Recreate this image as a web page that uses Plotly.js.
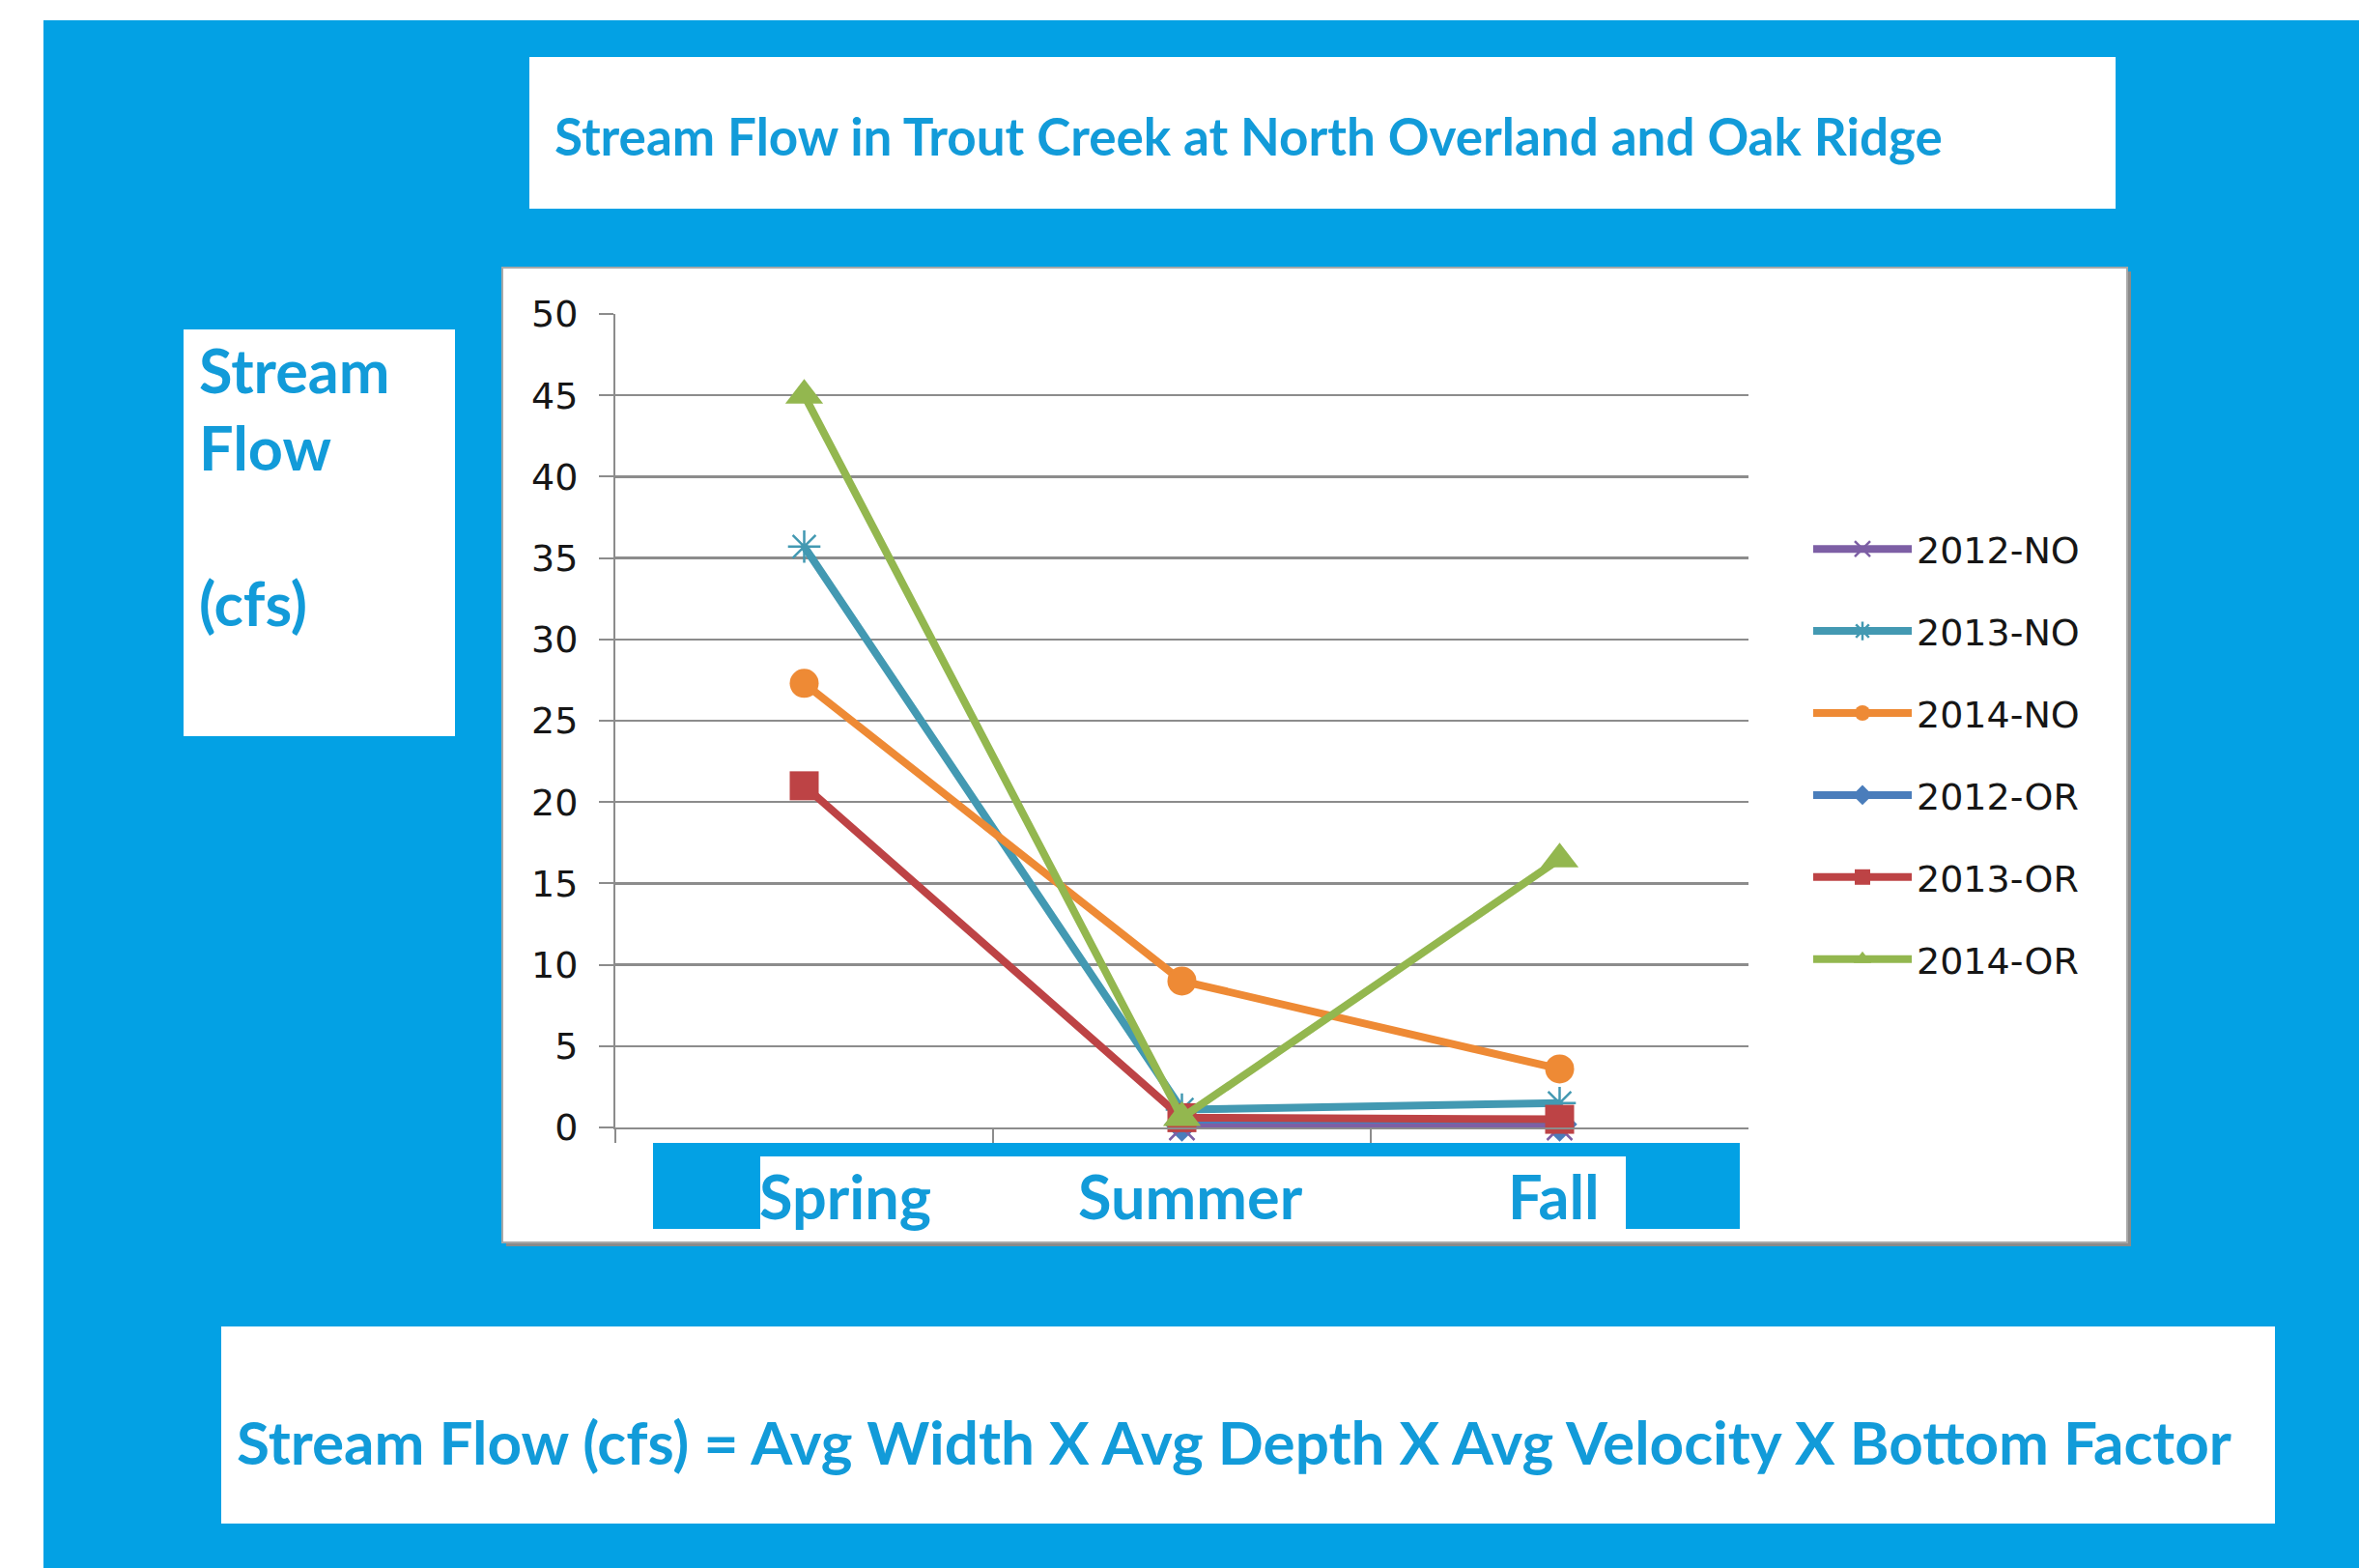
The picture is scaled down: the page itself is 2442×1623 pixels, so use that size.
<!DOCTYPE html>
<html><head><meta charset="utf-8">
<script src="https://cdn.plot.ly/plotly-3.0.1.min.js"></script>
<style>html,body{margin:0;padding:0;background:#fff;}#chart{width:2442px;height:1623px;}</style>
</head><body><div id="chart"></div>
<script>
// ---- data ----
const seasons = ["Spring", "Summer", "Fall"];
const seriesNames = ["2012-NO", "2013-NO", "2014-NO", "2012-OR", "2013-OR", "2014-OR"];
const flow2012NO = [null, 0.0, 0.0];
const flow2013NO = [35.7, 1.1, 1.5];
const flow2014NO = [27.3, 9.0, 3.6];
const flow2012OR = [null, 0.2, 0.2];
const flow2013OR = [21.0, 0.6, 0.5];
const flow2014OR = [45.0, 0.6, 16.5];
const yTickVals = [0, 5, 10, 15, 20, 25, 30, 35, 40, 45, 50];
const chartTitle = "Stream Flow in Trout Creek at North Overland and Oak Ridge";
const yTitleLines = ["Stream", "Flow", "(cfs)"];
const formulaText = "Stream Flow (cfs) = Avg Width X Avg Depth X Avg Velocity X Bottom Factor";

// ---- styling ----
const W = 2442, H = 1623;
const px = x => x / W;
const py = y => 1 - y / H;
const BLUE = "#03a1e4";
const TEXTBLUE = "#129bd9";
const FONT = "Lato, 'Open Sans', sans-serif";
const styles = [
  {color: "#7d5fa5", symbol: "x-thin-open", size: 26, lw: 2.5},
  {color: "#4399b2", symbol: "asterisk-open", size: 28, lw: 2.5},
  {color: "#ee8a35", symbol: "circle", size: 30, lw: 0},
  {color: "#4a7dbb", symbol: "diamond", size: 28, lw: 0},
  {color: "#bd4345", symbol: "square", size: 30, lw: 0},
  {color: "#93b74f", symbol: "triangle-up", size: 34, lw: 0}
];
const allSeries = [flow2012NO, flow2013NO, flow2014NO, flow2012OR, flow2013OR, flow2014OR];

const traces = allSeries.map((vals, i) => ({
  type: "scatter",
  mode: "lines+markers",
  name: seriesNames[i],
  legendgroup: "g" + i,
  legendrank: i + 1,
  x: seasons,
  y: vals,
  cliponaxis: false,
  line: {color: styles[i].color, width: 8},
  marker: {
    symbol: styles[i].symbol,
    size: styles[i].size,
    color: styles[i].color,
    line: {color: styles[i].color, width: styles[i].lw}
  }
}));
// draw order: OR lows under NO series
const order = [3, 0, 1, 4, 2, 5];
const plotTraces = order.map(i => traces[i]);

const shapes = [
  {type: "rect", xref: "paper", yref: "paper", x0: px(45), x1: px(2442), y0: py(21), y1: py(1623), fillcolor: BLUE, line: {width: 0}, layer: "below"},
  {type: "rect", xref: "paper", yref: "paper", x0: px(548), x1: px(2190), y0: py(59), y1: py(216), fillcolor: "#ffffff", line: {width: 0}, layer: "below"},
  {type: "rect", xref: "paper", yref: "paper", x0: px(524), x1: px(2206), y0: py(281), y1: py(1290), fillcolor: "#8a8a8a", line: {width: 0}, layer: "below"},
  {type: "rect", xref: "paper", yref: "paper", x0: px(520), x1: px(2202), y0: py(277), y1: py(1286), fillcolor: "#ffffff", line: {color: "#a8a8a8", width: 2}, layer: "below"},
  {type: "rect", xref: "paper", yref: "paper", x0: px(190), x1: px(471), y0: py(341), y1: py(762), fillcolor: "#ffffff", line: {width: 0}, layer: "below"},
  {type: "rect", xref: "paper", yref: "paper", x0: px(229), x1: px(2355), y0: py(1373), y1: py(1577), fillcolor: "#ffffff", line: {width: 0}, layer: "below"},
  {type: "rect", xref: "paper", yref: "paper", x0: px(676), x1: px(1801), y0: py(1183), y1: py(1272), fillcolor: BLUE, line: {width: 0}, layer: "above"},
  {type: "rect", xref: "paper", yref: "paper", x0: px(787), x1: px(1683), y0: py(1197), y1: py(1272), fillcolor: "#ffffff", line: {width: 0}, layer: "above"}
];

const labelShift = [42, 9, -6];
const annotations = [];
seasons.forEach((s, i) => annotations.push({
  xref: "x", yref: "paper", x: s, y: py(1237), xshift: labelShift[i],
  text: s, showarrow: false, xanchor: "center", yanchor: "middle",
  font: {family: FONT, size: 63, color: TEXTBLUE, weight: "bold"}
}));
const yTitleMid = [383, 462, 623];
yTitleLines.forEach((t, i) => annotations.push({
  xref: "paper", yref: "paper", x: px(204), y: py(yTitleMid[i]),
  text: t, showarrow: false, xanchor: "left", yanchor: "middle",
  font: {family: FONT, size: 63, color: TEXTBLUE, weight: "bold"}
}));
annotations.push({
  xref: "paper", yref: "paper", x: px(243), y: py(1492),
  text: formulaText, showarrow: false, xanchor: "left", yanchor: "middle",
  font: {family: FONT, size: 62, color: TEXTBLUE, weight: "bold"}
});

const layout = {
  width: W, height: H,
  margin: {l: 0, r: 0, t: 0, b: 0},
  paper_bgcolor: "#ffffff",
  plot_bgcolor: "#ffffff",
  showlegend: true,
  title: {
    text: chartTitle,
    xref: "paper", yref: "paper", x: px(574), xanchor: "left", y: py(142), yanchor: "middle",
    font: {family: FONT, size: 53, color: TEXTBLUE, weight: "bold"}
  },
  xaxis: {
    domain: [px(637), px(1810)],
    type: "category",
    categoryorder: "array", categoryarray: seasons,
    range: [-0.5, 2.5],
    showline: true, linecolor: "#8c8c8c", linewidth: 2,
    ticks: "outside", tickson: "boundaries", ticklen: 14, tickcolor: "#8c8c8c", tickwidth: 2,
    showticklabels: false, showgrid: false, zeroline: false, fixedrange: true
  },
  yaxis: {
    domain: [py(1167), py(325)],
    range: [0, 50],
    tickvals: yTickVals,
    showline: true, linecolor: "#8c8c8c", linewidth: 2,
    ticks: "outside", ticklen: 15, tickcolor: "#8c8c8c", tickwidth: 2,
    showgrid: true, gridcolor: "#8c8c8c", gridwidth: 2.5,
    zeroline: false,
    ticklabelstandoff: 14,
    tickfont: {family: "'DejaVu Sans', Verdana, sans-serif", size: 38, color: "#161616"},
    fixedrange: true
  },
  legend: {
    x: px(1872), y: py(537), xanchor: "left", yanchor: "top",
    bgcolor: "rgba(0,0,0,0)",
    font: {family: "'DejaVu Sans', Verdana, sans-serif", size: 38, color: "#161616"},
    itemwidth: 102,
    tracegroupgap: 32.5,
    traceorder: "grouped"
  },
  shapes: shapes,
  annotations: annotations
};

Plotly.newPlot("chart", plotTraces, layout, {displayModeBar: false, staticPlot: true});
</script>
</body></html>
